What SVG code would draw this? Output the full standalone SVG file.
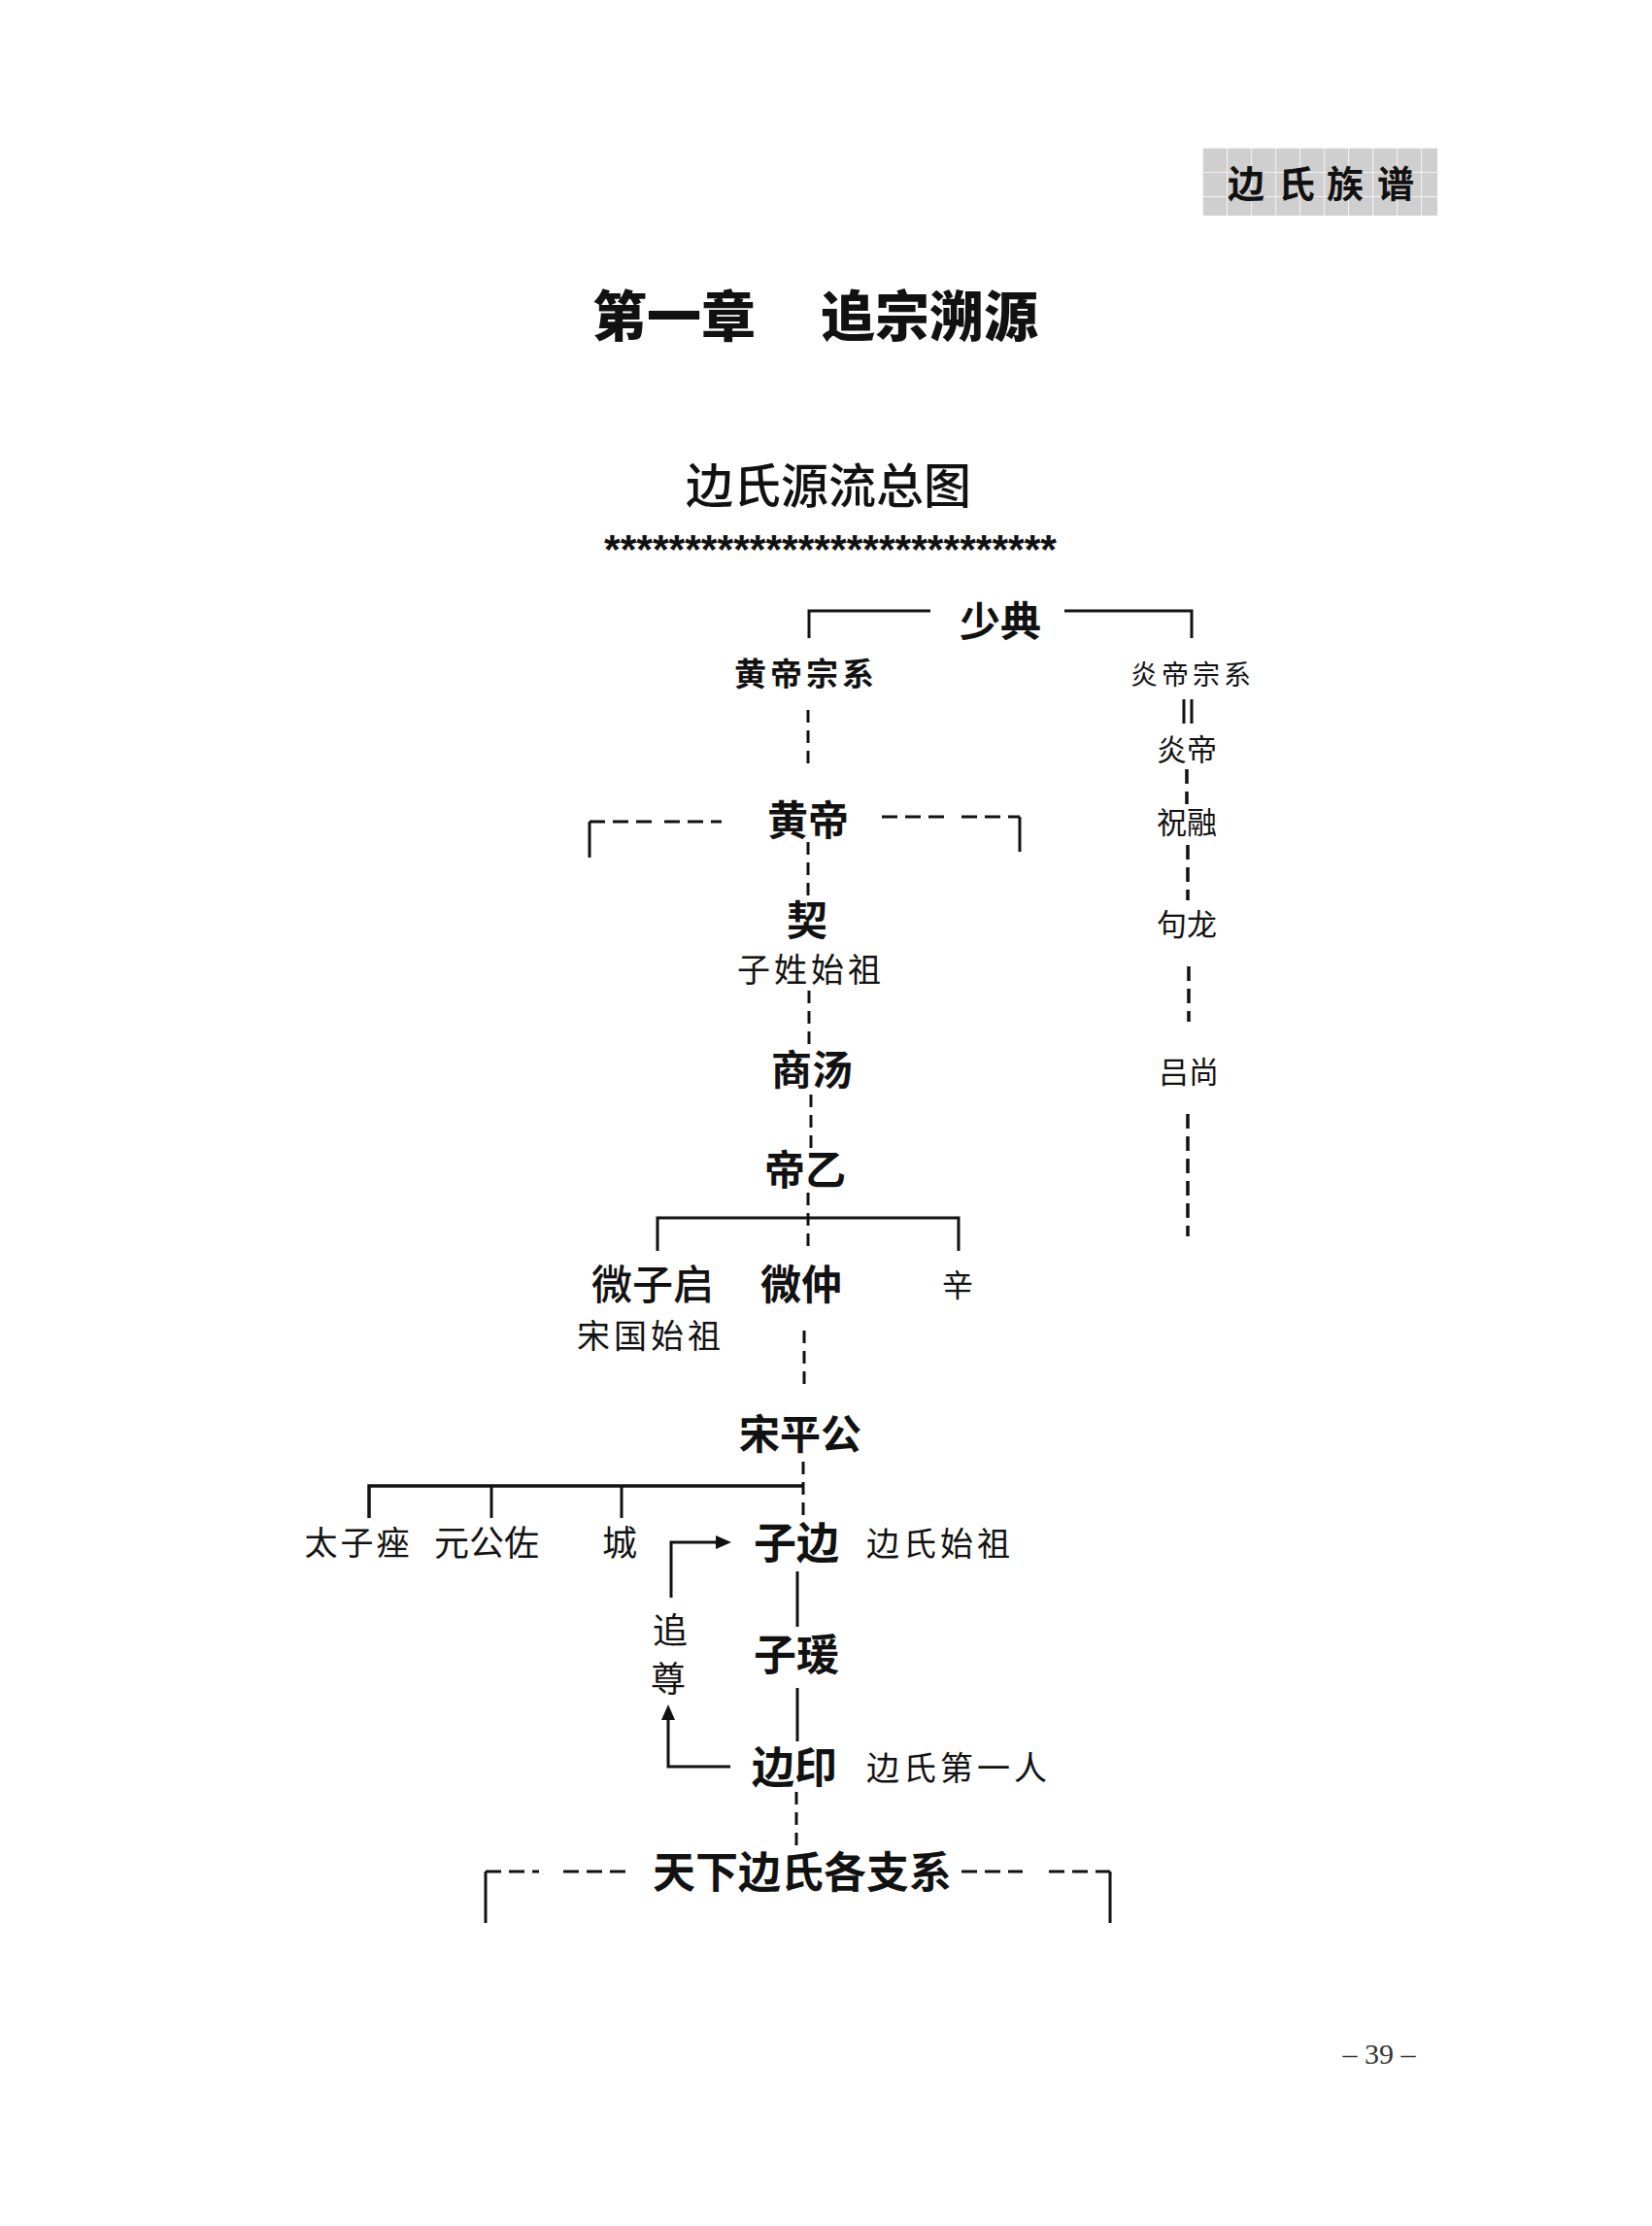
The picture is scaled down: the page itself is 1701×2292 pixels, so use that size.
<svg xmlns="http://www.w3.org/2000/svg" width="1701" height="2292" viewBox="0 0 1701 2292">
<style>
text { font-family: "Noto Sans CJK SC", sans-serif; fill: #111; text-anchor: middle; dominant-baseline: central; }
.b { font-weight: 700; font-size: 42px; }
.b44 { font-weight: 700; font-size: 44px; }
.k { font-weight: 400; font-size: 34px; letter-spacing: 4px; }
.s { font-weight: 400; font-size: 31px; }
.m { font-weight: 500; font-size: 42px; }
.ln { stroke: #111; stroke-width: 3; fill: none; }
.dl { stroke: #111; stroke-width: 3; fill: none; stroke-dasharray: 13 8; }
.dr { stroke: #111; stroke-width: 3.5; fill: none; stroke-dasharray: 15 8; }
.dh { stroke: #111; stroke-width: 3; fill: none; stroke-dasharray: 16 8; }
</style>
<defs>
<pattern id="grid" patternUnits="userSpaceOnUse" x="1238" y="152" width="25" height="25">
<rect width="25" height="25" fill="#cfcfcf"/>
<path d="M0 0.5 H25 M0.5 0 V25" stroke="#f2f2f2" stroke-width="1.2"/>
</pattern>
<marker id="arr" markerUnits="userSpaceOnUse" viewBox="0 0 16 14" refX="1" refY="7" markerWidth="16" markerHeight="14" orient="auto">
<path d="M0 0 L16 7 L0 14 z" fill="#111"/>
</marker>
</defs>
<rect width="1701" height="2292" fill="#fff"/>

<g id="header">
<rect x="1238" y="152" width="242" height="70" fill="url(#grid)"/>
<text x="1283 1335 1385 1437" y="186" style="font-size:38px;font-weight:700">边氏族谱</text>
</g>

<g id="title">
<text y="321" style="font-size:56px;font-weight:900"><tspan x="694">第一章</tspan><tspan x="957">追宗溯源</tspan></text>
</g>

<g id="subtitle">
<text x="853" y="496" style="font-size:49px;font-weight:500">边氏源流总图</text>
<text x="622" y="580" textLength="466" lengthAdjust="spacingAndGlyphs" style="font-family:'Liberation Sans',sans-serif;font-size:42px;font-weight:700;text-anchor:start;dominant-baseline:alphabetic">****************************</text>
</g>

<g id="connectors">
<path class="ln" d="M833 657 V629 H958"/>
<path class="ln" d="M1096 629 H1227 V657"/>
<path class="dl" d="M832 731 V792"/>
<path class="ln" d="M1219 720 V745 M1227 720 V745"/>
<path class="dr" d="M1222 792 V828"/>
<path class="dr" d="M1223 870 V927"/>
<path class="dr" d="M1224 995 V1052"/>
<path class="dr" d="M1223 1147 V1273"/>
<path class="ln" d="M607 846 V883"/>
<path class="dh" d="M607 846 H674 M684 846 H743"/>
<path class="dh" d="M908 841 H980 M990 841 H1050"/>
<path class="ln" d="M1050 841 V877"/>
<path class="dl" d="M832 867 V922"/>
<path class="dl" d="M833 1020 V1080"/>
<path class="dl" d="M835 1127 V1187"/>
<path class="dl" d="M832 1228 V1288"/>
<path class="ln" d="M677 1288 V1254 H987 V1288"/>
<path class="dl" d="M828 1370 V1427"/>
<path class="dl" d="M827 1505 V1565"/>
<path class="ln" style="stroke-width:3.5" d="M380 1563 V1530 H827"/>
<path class="ln" d="M506 1530 V1563 M640 1530 V1563"/>
<path class="ln" d="M821 1618 V1675"/>
<path class="ln" d="M821 1738 V1793"/>
<path class="dl" d="M820 1845 V1900"/>
<path class="ln" d="M500 1980 V1927"/>
<path class="dh" d="M500 1927 H555 M580 1927 H645"/>
<path class="dh" d="M990 1927 H1053 M1080 1927 H1143"/>
<path class="ln" d="M1143 1927 V1980"/>
<path class="ln" d="M691 1645 V1588 H738" marker-end="url(#arr)"/>
<path class="ln" d="M752 1819 H688 V1770" marker-end="url(#arr)"/>
</g>

<g id="n-shaodian"><text class="b" x="1030" y="636">少典</text></g>
<g id="n-huangdizongxi"><text x="830" y="692" style="font-size:33px;font-weight:700;letter-spacing:4px">黄帝宗系</text></g>
<g id="n-yandizongxi"><text x="1228" y="693" style="font-size:28px;font-weight:400;letter-spacing:4px">炎帝宗系</text></g>
<g id="n-yandi"><text class="s" x="1222" y="769">炎帝</text></g>
<g id="n-zhurong"><text class="s" x="1222" y="844">祝融</text></g>
<g id="n-goulong"><text class="s" x="1222" y="949">句龙</text></g>
<g id="n-lvshang"><text class="s" x="1224" y="1101">吕尚</text></g>
<g id="n-huangdi"><text class="b" x="832" y="841">黄帝</text></g>
<g id="n-qi"><text class="b" x="831" y="944">契</text><text class="k" x="835" y="996">子姓始祖</text></g>
<g id="n-shangtang"><text class="b" x="836" y="1098">商汤</text></g>
<g id="n-diyi"><text class="b" x="829" y="1201">帝乙</text></g>
<g id="n-weiziqi"><text class="m" x="672" y="1319">微子启</text><text class="k" x="670" y="1373">宋国始祖</text></g>
<g id="n-weizhong"><text class="b" x="825" y="1319">微仲</text></g>
<g id="n-xin"><text x="986" y="1321" style="font-size:32px;font-weight:400">辛</text></g>
<g id="n-songpinggong"><text class="b" x="824" y="1473">宋平公</text></g>
<g id="n-taizicuo"><text class="k" x="369" y="1586" style="letter-spacing:3px">太子痤</text></g>
<g id="n-yuangongzuo"><text x="501" y="1586" style="font-size:36px;font-weight:400">元公佐</text></g>
<g id="n-cheng"><text x="638" y="1586" style="font-size:36px;font-weight:400">城</text></g>
<g id="n-zibian"><text class="b44" x="820" y="1586">子边</text><text class="k" x="968" y="1587">边氏始祖</text></g>
<g id="n-zhuizun"><text x="690" y="1676" style="font-size:36px;font-weight:400">追</text><text x="688" y="1726" style="font-size:36px;font-weight:400">尊</text></g>
<g id="n-ziyuan"><text class="b44" x="820" y="1701">子瑗</text></g>
<g id="n-bianyin"><text class="b44" x="818" y="1817">边印</text><text class="k" x="987" y="1818">边氏第一人</text></g>
<g id="n-tianxia"><text class="b44" x="826" y="1925">天下边氏各支系</text></g>

<g id="pagenum"><text x="1420" y="2114" style="font-family:'Liberation Serif',serif;font-size:30px;fill:#333">– 39 –</text></g>
</svg>
